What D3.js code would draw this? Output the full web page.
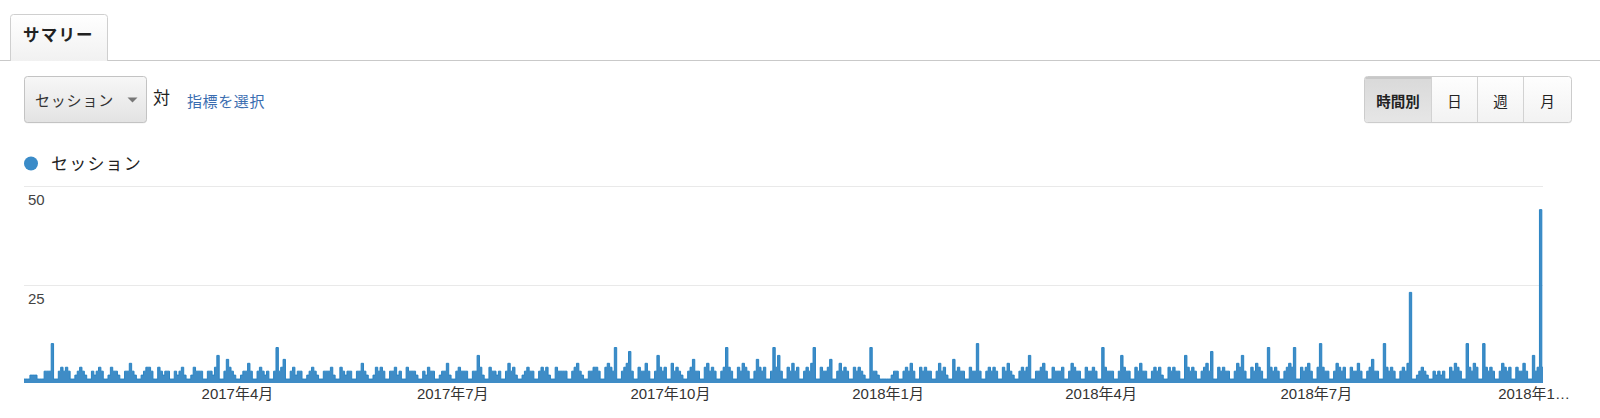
<!DOCTYPE html>
<html><head><meta charset="utf-8">
<script src="https://cdn.jsdelivr.net/npm/d3@7"></script>
<style>
html,body{margin:0;padding:0;background:#fff;}
svg{display:block;font-family:"Liberation Sans",Arial,"Noto Sans CJK JP",sans-serif;}
</style></head>
<body><svg id="c" width="1600" height="418"></svg>
<script>
// ---- data ----
const startDate = "2017-01-01";
// daily sessions 2017 (Jan 1 .. Dec 31), rows = weeks Sun..Sat
const sessions2017 = [
1,1,1,2,2,2,1,
1,1,3,3,3,10,1,
1,3,4,3,4,3,1,
1,2,3,4,3,2,1,
1,3,2,3,4,3,1,
1,2,4,3,3,2,1,
1,3,3,5,3,2,1,
1,2,3,4,4,3,1,
1,4,3,2,3,3,1,
1,3,2,3,4,2,1,
1,2,4,3,3,3,1,
1,3,3,2,4,7,1,
1,3,6,4,3,2,1,
1,2,3,3,5,3,1,
1,3,4,3,2,3,1,
1,3,9,3,4,6,1,
1,3,4,2,3,3,1,
1,2,3,4,3,2,1,
1,3,3,3,4,2,1,
1,4,3,2,3,3,1,
1,3,3,5,3,2,1,
1,2,4,3,4,3,1,
1,3,3,4,2,3,1,
1,4,3,3,3,2,1,
1,3,2,4,3,3,1,
1,2,3,3,5,2,1,
1,3,4,3,3,3,1,
1,3,3,7,4,2,1,
1,4,3,3,2,3,1,
1,3,5,3,4,2,1,
1,2,3,4,3,3,1,
1,3,4,3,4,2,1,
1,4,3,3,3,3,1,
1,3,4,5,3,2,1,
1,3,3,4,4,3,1,
1,4,5,4,3,9,1,
1,3,4,5,8,3,1,
1,4,3,3,5,3,1,
1,3,7,4,3,4,1,
1,5,3,4,3,2,1,
1,3,4,6,3,3,1,
1,4,5,3,4,3,1,
1,3,4,9,4,3,1,
1,4,3,5,4,3,1,
1,3,6,4,3,4,1,
1,3,9,4,7,3,1,
1,4,3,5,3,4,1,
1,3,4,3,5,9,1,
1,4,3,3,4,6,1,
1,3,5,3,4,3,1,
1,4,3,4,3,2,1,
1,9,3,3,2,1,1,
1
];
// daily sessions 2018 (Jan 1 .. Oct 5)
const sessions2018 = [
      1,1,2,3,3,1,
1,3,4,3,5,3,1,
1,4,3,4,3,3,1,
1,3,5,3,4,2,1,
1,6,3,4,3,3,1,
1,4,3,3,10,3,1,
1,3,4,3,4,3,1,
1,4,3,5,3,2,1,
1,3,4,3,4,7,1,
1,3,3,4,5,3,1,
1,4,3,3,3,4,1,
1,3,5,4,3,3,1,
1,4,3,3,4,3,1,
1,9,4,3,3,3,1,
1,3,7,4,3,3,1,
1,4,3,5,3,3,1,
1,3,4,3,4,2,1,
1,4,3,4,3,3,1,
1,7,4,3,4,3,1,
1,3,4,5,3,8,1,
1,4,3,4,3,3,1,
1,3,5,4,7,3,1,
1,4,3,5,4,3,1,
1,9,4,3,4,3,1,
1,3,4,5,4,9,1,
1,4,3,4,5,3,1,
1,4,10,4,3,3,1,
1,3,5,4,3,4,1,
1,4,3,3,5,3,1,
1,3,4,6,3,3,1,
1,10,4,3,4,3,1,
1,3,4,3,5,23,1,
1,2,3,4,3,2,1,
1,3,2,3,2,3,1,
1,4,3,5,4,3,1,
1,10,4,3,5,4,1,
1,10,4,3,4,3,1,
1,3,5,4,3,4,1,
1,4,3,3,5,3,1,
1,7,3,4,44,4
];
const yTicks = [25, 50];
const tickDates = ["2017-04-01","2017-07-01","2017-10-01","2018-01-01","2018-04-01","2018-07-01","2018-10-01"];
const tickLabels = ["2017年4月","2017年7月","2017年10月","2018年1月","2018年4月","2018年7月","2018年1…"];
const seriesName = "セッション";
const granularity = ["時間別","日","週","月"];

// ---- build ----
const parse = d3.utcParse("%Y-%m-%d");
const t0 = parse(startDate);
const values = sessions2017.concat(sessions2018);
const data = values.map((v,i)=>({date:d3.utcDay.offset(t0,i), v}));

const svg = d3.select("#c");
const defs = svg.append("defs");
function grad(id, c1, c2){
  const g = defs.append("linearGradient").attr("id",id).attr("x1",0).attr("y1",0).attr("x2",0).attr("y2",1);
  g.append("stop").attr("offset","0%").attr("stop-color",c1);
  g.append("stop").attr("offset","100%").attr("stop-color",c2);
}
grad("gTab","#ffffff","#f1f1f1");
grad("gDrop","#f7f7f7","#e3e3e3");
grad("gBtn","#fefefe","#f2f2f2");
grad("gSel","#d9d9d9","#e6e6e6");

// tab header
svg.append("line").attr("x1",0).attr("x2",1600).attr("y1",60.5).attr("y2",60.5).attr("stroke","#c9c9c9");
svg.append("path").attr("d","M10.5,61 V17.5 Q10.5,14.5 13.5,14.5 H104.5 Q107.5,14.5 107.5,17.5 V61")
  .attr("fill","url(#gTab)").attr("stroke","#cfcfcf");
svg.append("text").attr("x",23).attr("y",34.5).attr("dominant-baseline","central")
  .attr("font-size",16.5).attr("font-weight","bold").attr("letter-spacing",1.2).attr("fill","#222").text("サマリー");

// dropdown
svg.append("rect").attr("x",24.5).attr("y",77.5).attr("width",122).attr("height",46).attr("rx",3)
  .attr("fill","#000").attr("opacity",0.06);
svg.append("rect").attr("x",24.5).attr("y",76.5).attr("width",122).attr("height",46).attr("rx",3)
  .attr("fill","url(#gDrop)").attr("stroke","#c3c3c3");
svg.append("text").attr("x",35).attr("y",100.5).attr("dominant-baseline","central")
  .attr("font-size",15).attr("letter-spacing",0.8).attr("fill","#333").text(seriesName);
svg.append("path").attr("d","M127.5,97.5 L137.5,97.5 L132.5,102.5 Z").attr("fill","#777");
svg.append("text").attr("x",153).attr("y",98.5).attr("dominant-baseline","central")
  .attr("font-size",17).attr("fill","#222").text("対");
svg.append("text").attr("x",187).attr("y",101).attr("dominant-baseline","central")
  .attr("font-size",15).attr("letter-spacing",0.6).attr("fill","#3a6db0").text("指標を選択");

// granularity buttons
const bx = [1364.5,1431.5,1477.5,1523.5,1571.5];
svg.append("rect").attr("x",bx[0]).attr("y",77.5).attr("width",bx[4]-bx[0]).attr("height",46).attr("rx",3)
  .attr("fill","#000").attr("opacity",0.05);
svg.append("rect").attr("x",bx[0]).attr("y",76.5).attr("width",bx[4]-bx[0]).attr("height",46).attr("rx",3)
  .attr("fill","url(#gBtn)").attr("stroke","#cccccc");
svg.append("path").attr("d",`M${bx[1]},77 H${bx[0]+3} Q${bx[0]+0.5},77 ${bx[0]+0.5},80 V119 Q${bx[0]+0.5},122 ${bx[0]+3},122 H${bx[1]} Z`)
  .attr("fill","url(#gSel)");
svg.append("line").attr("x1",bx[0]+1).attr("x2",bx[1]).attr("y1",78).attr("y2",78).attr("stroke","#c8c8c8").attr("stroke-width",2);
granularity.forEach((g,i)=>{
  if(i>0) svg.append("line").attr("x1",bx[i]).attr("x2",bx[i]).attr("y1",77).attr("y2",122).attr("stroke","#d2d2d2");
  svg.append("text").attr("x",(bx[i]+bx[i+1])/2).attr("y",101.5).attr("text-anchor","middle")
    .attr("dominant-baseline","central").attr("font-size",14.5).attr("fill","#222")
    .attr("font-weight", i===0 ? "bold" : "normal").text(g);
});

// legend
svg.append("circle").attr("cx",31).attr("cy",163.5).attr("r",7).attr("fill","#3a8bc8");
svg.append("text").attr("x",51).attr("y",164).attr("dominant-baseline","central")
  .attr("font-size",17).attr("letter-spacing",1.2).attr("fill","#222").text(seriesName);

// chart
const x = d3.scaleUtc().domain([data[0].date, data[data.length-1].date]).range([24,1543]);
const y = d3.scaleLinear().domain([0,50]).range([383,186]);

const grid = svg.append("g");
yTicks.forEach(t=>{
  grid.append("line").attr("x1",24).attr("x2",1543).attr("y1",Math.round(y(t))+0.5).attr("y2",Math.round(y(t))+0.5)
    .attr("stroke","#e9e9e9");
  grid.append("text").attr("x",28).attr("y",y(t)+19).attr("font-size",15).attr("fill","#444").text(t);
});

const area = d3.area().curve(d3.curveStep).x(d=>x(d.date)).y0(y(0)).y1(d=>y(d.v));
const line = d3.line().curve(d3.curveStep).x(d=>x(d.date)).y(d=>y(d.v));
svg.append("path").datum(data).attr("d",area).attr("fill","#3f8cc6");
svg.append("path").datum(data).attr("d",line).attr("fill","none").attr("stroke","#2a84c4").attr("stroke-width",1);

const xAxis = d3.axisBottom(x).tickValues(tickDates.map(parse))
  .tickFormat((d,i)=>tickLabels[i]).tickSize(0).tickPadding(0);
const gx = svg.append("g").attr("transform","translate(0,388)").call(xAxis);
gx.select(".domain").remove();
gx.selectAll("text").attr("font-size",15).attr("fill","#333")
  .attr("font-family",'"Liberation Sans",Arial,"Noto Sans CJK JP",sans-serif');
</script></body></html>
